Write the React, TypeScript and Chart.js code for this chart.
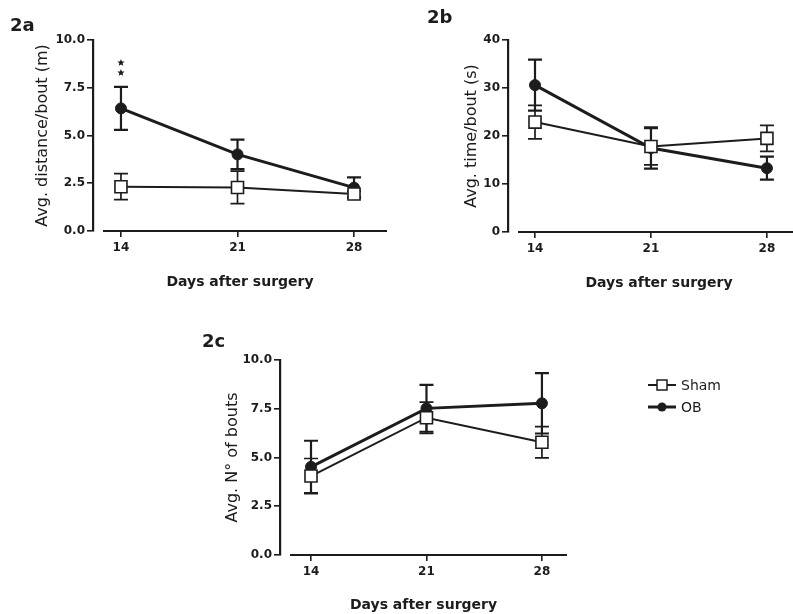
import React, { useEffect, useRef } from "react";
import { Chart, registerables } from "chart.js";

Chart.register(...registerables);

// ---------------- data ----------------
const days = [14, 21, 28];
const seriesLabels = ["Sham", "OB"];
const xTitle = "Days after surgery";

const distSham = [2.32, 2.28, 1.94];
const distShamErr = [0.68, 0.85, 0.15];
const distOB = [6.42, 4.01, 2.27];
const distOBErr = [1.13, 0.77, 0.54];
const distTicks = [0, 2.5, 5, 7.5, 10];

const timeSham = [22.9, 17.8, 19.5];
const timeShamErr = [3.5, 3.8, 2.7];
const timeOB = [30.6, 17.5, 13.3];
const timeOBErr = [5.3, 4.3, 2.4];
const timeTicks = [0, 10, 20, 30, 40];

const boutsSham = [4.05, 7.04, 5.78];
const boutsShamErr = [0.9, 0.8, 0.8];
const boutsOB = [4.52, 7.52, 7.78];
const boutsOBErr = [1.34, 1.2, 1.55];
const boutsTicks = [0, 2.5, 5, 7.5, 10];

const distStars = [{ day: 14, count: 2 }];

// ---------------- styling ----------------
const INK = "#1c1c1c";
const FONT = "'DejaVu Sans', 'Liberation Sans', Arial, sans-serif";
const CAP = 7;

type PanelSpec = {
  left: number; top: number; width: number; height: number;
  label: string; labelDx: number; labelDy: number;
  yTitle: string; yMin: number; yMax: number; yTicks: number[]; yDecimals: number;
  yWidth: number; yTitlePad: number;
  xMin: number; xMax: number; xHeight: number; xTitlePad: number;
  padTop: number; padRight: number;
  sham: number[]; shamErr: number[]; ob: number[]; obErr: number[];
  stars?: { day: number; count: number }[];
  legend?: { dx: number; dy: number; gap: number };
};

function drawStar(ctx: CanvasRenderingContext2D, cx: number, cy: number, r: number) {
  ctx.beginPath();
  for (let k = 0; k < 10; k++) {
    const rad = k % 2 === 0 ? r : r * 0.45;
    const a = -Math.PI / 2 + (k * Math.PI) / 5;
    const px = cx + rad * Math.cos(a);
    const py = cy + rad * Math.sin(a);
    if (k === 0) ctx.moveTo(px, py);
    else ctx.lineTo(px, py);
  }
  ctx.closePath();
  ctx.fill();
}

function Panel({ spec }: { spec: PanelSpec }) {
  const ref = useRef<HTMLCanvasElement>(null);
  useEffect(() => {
    const canvas = ref.current;
    if (!canvas) return;
    const vals = [spec.sham, spec.ob];
    const errs = [spec.shamErr, spec.obErr];
    const errWidths = [1.7, 2.2];

    const errorBars = {
      id: "errorBars",
      beforeDatasetsDraw(chart: any) {
        const ctx = chart.ctx as CanvasRenderingContext2D;
        const ys = chart.scales.y;
        ctx.save();
        ctx.strokeStyle = INK;
        // x axis line (offset from the y axis)
        const ca = chart.chartArea;
        ctx.lineWidth = 2.2;
        ctx.beginPath();
        ctx.moveTo(ca.left + 10, ca.bottom);
        ctx.lineTo(ca.right, ca.bottom);
        ctx.stroke();
        for (let i = vals.length - 1; i >= 0; i--) {
          const meta = chart.getDatasetMeta(i);
          meta.data.forEach((pt: any, j: number) => {
            const v = vals[i][j];
            const e = errs[i][j];
            const yt = ys.getPixelForValue(v + e);
            const yb = ys.getPixelForValue(v - e);
            ctx.lineWidth = errWidths[i];
            ctx.beginPath();
            ctx.moveTo(pt.x, yt);
            ctx.lineTo(pt.x, yb);
            ctx.moveTo(pt.x - CAP, yt);
            ctx.lineTo(pt.x + CAP, yt);
            ctx.moveTo(pt.x - CAP, yb);
            ctx.lineTo(pt.x + CAP, yb);
            ctx.stroke();
          });
        }
        ctx.restore();
      },
    };

    const extras = {
      id: "extras",
      afterDraw(chart: any) {
        const ctx = chart.ctx as CanvasRenderingContext2D;
        const ca = chart.chartArea;
        ctx.save();
        ctx.fillStyle = INK;
        ctx.strokeStyle = INK;
        // panel label
        ctx.font = `bold 18px ${FONT}`;
        ctx.textAlign = "left";
        ctx.textBaseline = "middle";
        ctx.fillText(spec.label, ca.left + spec.labelDx, ca.top + spec.labelDy);
        // significance stars
        if (spec.stars) {
          const xs = chart.scales.x;
          const ys = chart.scales.y;
          spec.stars.forEach((s) => {
            const j = days.indexOf(s.day);
            const capY = ys.getPixelForValue(spec.ob[j] + spec.obErr[j]);
            const px = xs.getPixelForValue(s.day);
            for (let k = 0; k < s.count; k++) {
              drawStar(ctx, px, capY - 14 - k * 10, 3.8);
            }
          });
        }
        // legend
        if (spec.legend) {
          const lg = spec.legend;
          chart.data.datasets.forEach((ds: any, i: number) => {
            const x0 = ca.right + lg.dx;
            const y0 = ca.top + lg.dy + i * lg.gap;
            ctx.lineWidth = ds.borderWidth;
            ctx.beginPath();
            ctx.moveTo(x0, y0);
            ctx.lineTo(x0 + 28, y0);
            ctx.stroke();
            const cx = x0 + 14;
            if (ds.pointStyle === "rect") {
              ctx.fillStyle = "#fff";
              ctx.lineWidth = 1.5;
              ctx.fillRect(cx - 5, y0 - 5, 10, 10);
              ctx.strokeRect(cx - 5, y0 - 5, 10, 10);
            } else {
              ctx.fillStyle = INK;
              ctx.beginPath();
              ctx.arc(cx, y0, 4.5, 0, Math.PI * 2);
              ctx.fill();
            }
            ctx.fillStyle = INK;
            ctx.font = `14px ${FONT}`;
            ctx.textAlign = "left";
            ctx.textBaseline = "middle";
            ctx.fillText(ds.label, x0 + 33, y0 + 1);
          });
        }
        ctx.restore();
      },
    };

    const chart = new Chart(canvas, {
      type: "line",
      data: {
        datasets: [
          {
            label: seriesLabels[0],
            data: days.map((d, i) => ({ x: d, y: spec.sham[i] })),
            borderColor: INK,
            borderWidth: 2,
            pointStyle: "rect",
            pointRadius: 8.5,
            pointBackgroundColor: "#fff",
            pointBorderColor: INK,
            pointBorderWidth: 1.6,
            tension: 0,
            fill: false,
            clip: false as any,
          },
          {
            label: seriesLabels[1],
            data: days.map((d, i) => ({ x: d, y: spec.ob[i] })),
            borderColor: INK,
            borderWidth: 3,
            pointStyle: "circle",
            pointRadius: 5.5,
            pointBackgroundColor: INK,
            pointBorderColor: INK,
            pointBorderWidth: 1,
            tension: 0,
            fill: false,
            clip: false as any,
          },
        ],
      },
      options: {
        animation: false,
        responsive: true,
        maintainAspectRatio: false,
        events: [],
        layout: { padding: { left: 0, top: spec.padTop, right: spec.padRight, bottom: 0 } },
        plugins: { legend: { display: false }, tooltip: { enabled: false } },
        scales: {
          x: {
            type: "linear",
            min: spec.xMin,
            max: spec.xMax,
            afterBuildTicks: (s: any) => {
              s.ticks = days.map((v) => ({ value: v }));
            },
            afterFit: (s: any) => {
              s.height = spec.xHeight;
            },
            ticks: {
              color: INK,
              font: { family: FONT, size: 12, weight: "bold" },
              padding: 4,
              maxRotation: 0,
              autoSkip: false,
              callback: (v: any) => String(v),
            },
            grid: { drawOnChartArea: false, drawTicks: true, tickLength: 6, color: INK, lineWidth: 1.6 },
            border: { display: false },
            title: {
              display: true,
              text: xTitle,
              color: INK,
              font: { family: FONT, size: 14, weight: "bold" },
              padding: { top: 0, bottom: spec.xTitlePad },
            },
          },
          y: {
            type: "linear",
            min: spec.yMin,
            max: spec.yMax,
            afterBuildTicks: (s: any) => {
              s.ticks = spec.yTicks.map((v) => ({ value: v }));
            },
            afterFit: (s: any) => {
              s.width = spec.yWidth;
            },
            ticks: {
              color: INK,
              font: { family: FONT, size: 12, weight: "bold" },
              padding: 2,
              callback: (v: any) => Number(v).toFixed(spec.yDecimals),
            },
            grid: { drawOnChartArea: false, drawTicks: true, tickLength: 6, color: INK, lineWidth: 1.6 },
            border: { display: true, color: INK, width: 2.2 },
            title: {
              display: true,
              text: spec.yTitle,
              color: INK,
              font: { family: FONT, size: 16 },
              padding: { top: spec.yTitlePad, bottom: 0 },
            },
          },
        },
      } as any,
      plugins: [errorBars, extras],
    });
    return () => chart.destroy();
  }, [spec]);

  return (
    <div
      style={{
        position: "absolute",
        left: spec.left,
        top: spec.top,
        width: spec.width,
        height: spec.height,
      }}
    >
      <canvas ref={ref} style={{ display: "block" }} />
    </div>
  );
}

const panels: PanelSpec[] = [
  {
    left: 0, top: 0, width: 400, height: 300,
    label: "2a", labelDx: -83, labelDy: -14,
    yTitle: "Avg. distance/bout (m)", yMin: 0, yMax: 10, yTicks: distTicks, yDecimals: 1,
    yWidth: 93, yTitlePad: 33.4,
    xMin: 12.32, xMax: 29.98, xHeight: 69, xTitlePad: 9,
    padTop: 40, padRight: 13,
    sham: distSham, shamErr: distShamErr, ob: distOB, obErr: distOBErr,
    stars: distStars,
  },
  {
    left: 400, top: 0, width: 430, height: 300,
    label: "2b", labelDx: -81, labelDy: -22,
    yTitle: "Avg. time/bout (s)", yMin: 0, yMax: 40, yTicks: timeTicks, yDecimals: 0,
    yWidth: 108, yTitlePad: 62.4,
    xMin: 12.37, xMax: 30.6, xHeight: 68, xTitlePad: 8,
    padTop: 40, padRight: 20,
    sham: timeSham, shamErr: timeShamErr, ob: timeOB, obErr: timeOBErr,
  },
  {
    left: 180, top: 320, width: 613, height: 294,
    label: "2c", labelDx: -78, labelDy: -18,
    yTitle: "Avg. N° of bouts", yMin: 0, yMax: 10, yTicks: boutsTicks, yDecimals: 1,
    yWidth: 100, yTitlePad: 43.4,
    xMin: 12.12, xMax: 29.52, xHeight: 59, xTitlePad: 0,
    padTop: 40, padRight: 226,
    sham: boutsSham, shamErr: boutsShamErr, ob: boutsOB, obErr: boutsOBErr,
    legend: { dx: 81, dy: 25, gap: 22 },
  },
];

export default function App() {
  return (
    <div
      style={{
        position: "absolute",
        left: 0,
        top: 0,
        width: 793,
        height: 614,
        overflow: "hidden",
        background: "#fff",
      }}
    >
      {panels.map((p) => (
        <Panel key={p.label} spec={p} />
      ))}
    </div>
  );
}
